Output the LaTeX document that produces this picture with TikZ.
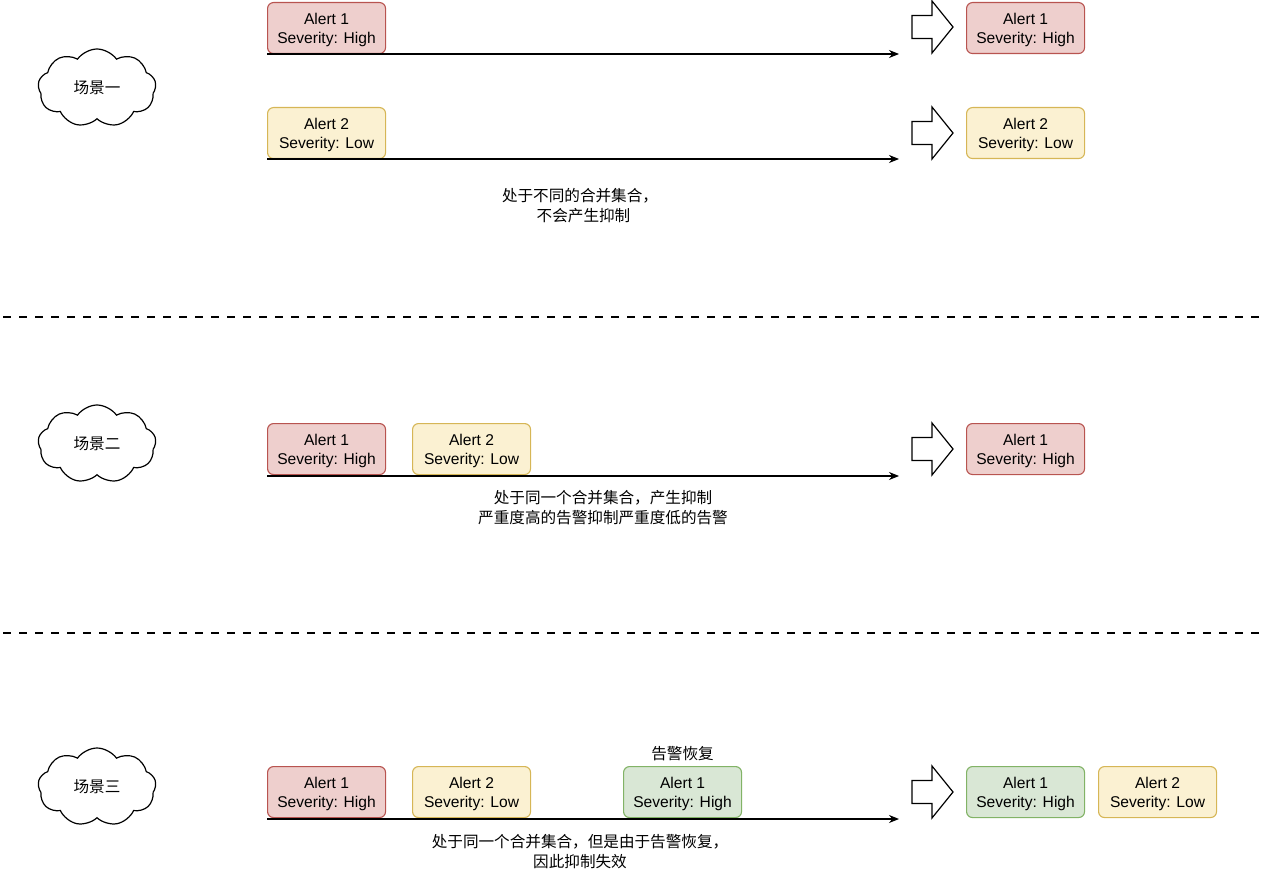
\documentclass[tikz,border=0pt]{standalone}
\usepackage{fontspec}
\setmainfont{Liberation Sans}
\newfontfamily\cjk{Noto Sans CJK SC}
\usetikzlibrary{shapes.symbols,arrows.meta}
\definecolor{highfill}{HTML}{EECFCD}
\definecolor{highdraw}{HTML}{B85450}
\definecolor{lowfill}{HTML}{FBF1D2}
\definecolor{lowdraw}{HTML}{D6B656}
\definecolor{okfill}{HTML}{D9E7D5}
\definecolor{okdraw}{HTML}{82B366}
\tikzset{
	alertbox/.style={draw,line width=1.1,rounded corners=6,minimum width=118,minimum height=51,anchor=north west,align=center,inner sep=0,text depth=-0.6pt,font=\fontsize{15.6}{19}\selectfont},
	highbox/.style={alertbox,fill=highfill,draw=highdraw},
	lowbox/.style={alertbox,fill=lowfill,draw=lowdraw},
	okbox/.style={alertbox,fill=okfill,draw=okdraw},
	scene/.style={cloud,cloud puffs=9,cloud puff arc=110,aspect=1.5,draw,line width=1.2,minimum width=118,minimum height=78,inner sep=0,font=\cjk\fontsize{15.6}{19}\selectfont},
	note/.style={align=center,inner sep=0,font=\cjk\fontsize{15.6}{20}\selectfont},
	flow/.style={line width=1.2,-{Stealth[length=10,width=8]}},
	sep/.style={line width=2,dash pattern=on 8 off 8}
}
\begin{document}
\begin{tikzpicture}[x=1pt,y=-1pt]
	\useasboundingbox (0,0) rectangle (1272,872);
	% scene 1
	\node[scene] (c1) at (97,88) {场景一};
	\node[highbox] (h1) at (267,2) {Alert 1\\Severity: High};
	\node[lowbox] (l1) at (267,107) {Alert 2\\Severity: Low};
	\coordinate (e1) at (899,54);
	\coordinate (e2) at (899,159);
	\draw[flow] (h1.south west |- e1) -- (e1);
	\draw[flow] (l1.south west |- e2) -- (e2);
	\node[highbox] (rh1) at (966,2) {Alert 1\\Severity: High};
	\node[lowbox] (rl1) at (966,107) {Alert 2\\Severity: Low};
	\node[note] (t1) at (580,206) {处于不同的合并集合，\\\ \ 不会产生抑制};
	% separators
	\coordinate (d1a) at (3,317);
	\coordinate (d1b) at (1262,317);
	\coordinate (d2a) at (3,633);
	\coordinate (d2b) at (1262,633);
	\draw[sep] (d1a) -- (d1b);
	\draw[sep] (d2a) -- (d2b);
	% scene 2
	\node[scene] (c2) at (97,444) {场景二};
	\node[highbox] (h2) at (267,423) {Alert 1\\Severity: High};
	\node[lowbox] (l2) at (412,423) {Alert 2\\Severity: Low};
	\coordinate (e3) at (899,476);
	\draw[flow] (h2.south west |- e3) -- (e3);
	\node[highbox] (rh2) at (966,423) {Alert 1\\Severity: High};
	\node[note] (t2) at (603,508) {处于同一个合并集合，产生抑制\\严重度高的告警抑制严重度低的告警};
	% scene 3
	\node[scene] (c3) at (97,787) {场景三};
	\node[highbox] (h3) at (267,766) {Alert 1\\Severity: High};
	\node[lowbox] (l3) at (412,766) {Alert 2\\Severity: Low};
	\node[okbox] (g3) at (623,766) {Alert 1\\Severity: High};
	\node[note,above=5pt] (r3) at (g3.north) {告警恢复};
	\coordinate (e4) at (899,819);
	\draw[flow] (h3.south west |- e4) -- (e4);
	\node[okbox] (rg3) at (966,766) {Alert 1\\Severity: High};
	\node[lowbox] (rl3) at (1098,766) {Alert 2\\Severity: Low};
	\node[note] (t3) at (580,852) {处于同一个合并集合，但是由于告警恢复，\\因此抑制失效};
	% block arrows
	\foreach \y in {27,133,449,792}
		\draw[line width=1.2,shift={(912,\y)}] (0,-11.5) -- (20,-11.5) -- (20,-26) -- (41,0) -- (20,26) -- (20,11.5) -- (0,11.5) -- cycle;
\end{tikzpicture}
\end{document}
